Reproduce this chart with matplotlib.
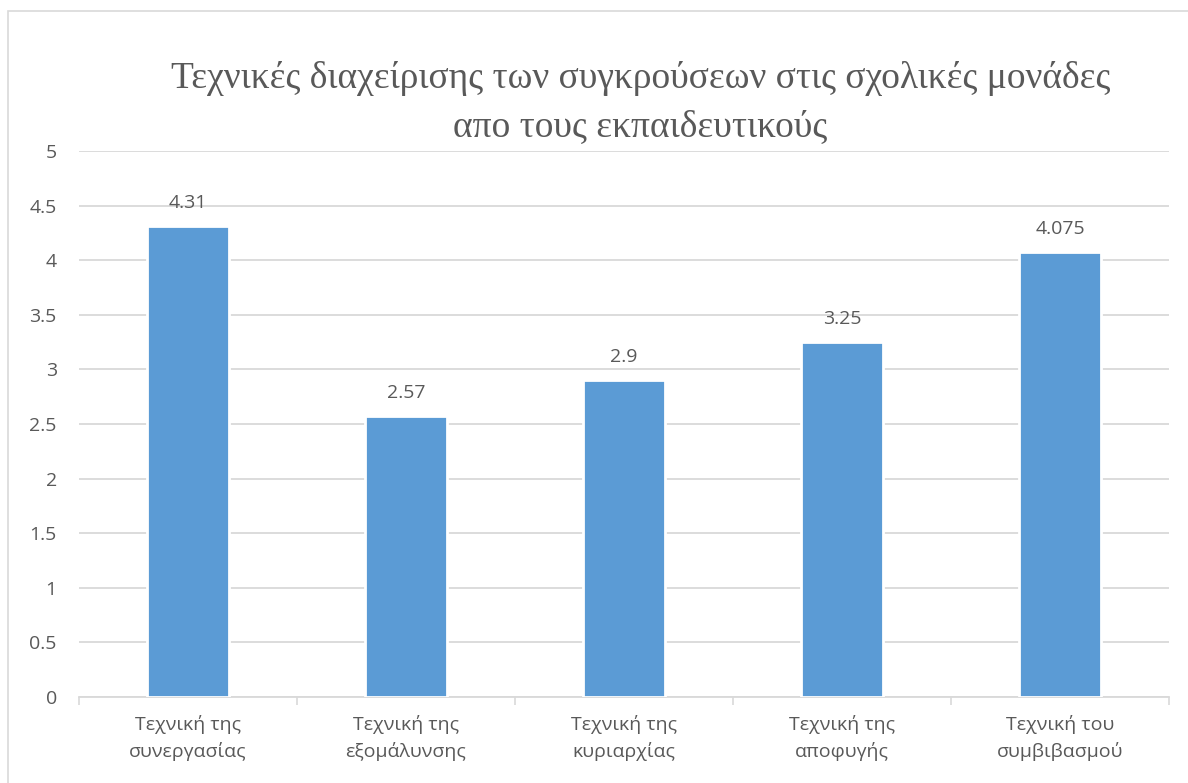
import matplotlib.pyplot as plt
import matplotlib.patches as mpatches
import numpy as np

plt.rcParams['font.family'] = ['Open Sans', 'DejaVu Sans']

categories = ['Τεχνική της\nσυνεργασίας', 'Τεχνική της\nεξομάλυνσης', 'Τεχνική της\nκυριαρχίας',
              'Τεχνική της\nαποφυγής', 'Τεχνική του\nσυμβιβασμού']
values = [4.31, 2.57, 2.9, 3.25, 4.075]
labels = ['4.31', '2.57', '2.9', '3.25', '4.075']
yticks = [0, 0.5, 1, 1.5, 2, 2.5, 3, 3.5, 4, 4.5, 5]

text_col = '#595959'
grid_col = '#D9D9D9'

fig = plt.figure(figsize=(11.88, 7.83), dpi=100)
ax = fig.add_axes([0.0665, 0.1098, 0.9175, 0.6972])

# chart border (only left/top visible in the crop)
fig.patches.append(mpatches.Rectangle((8 / 1188, -0.05), 1.2, 1 - 11 / 783 + 0.05,
                                      transform=fig.transFigure, fill=False,
                                      edgecolor=grid_col, linewidth=1.2))

x = np.arange(len(categories))
ax.bar(x, values, width=0.376, color='#5B9BD5', edgecolor='white', linewidth=2, zorder=3)
for i in range(len(values)):
    ax.text(x[i], values[i] + 0.13, labels[i], ha='center', va='bottom', fontsize=14, color=text_col)

ax.set_xlim(-0.5, len(categories) - 0.5)
ax.set_ylim(0, 5)
ax.set_yticks(yticks)
ax.set_yticklabels([f'{t:g}' for t in yticks], fontsize=14, color=text_col)
ax.yaxis.grid(True, color=grid_col, linewidth=1.3, zorder=0)
ax.set_axisbelow(True)
ax.tick_params(axis='y', length=0, pad=16)

ax.set_xticks(x)
ax.set_xticklabels(categories, fontsize=14, color=text_col, linespacing=1.55)
ax.set_xticks(np.arange(len(categories) + 1) - 0.5, minor=True)
ax.tick_params(axis='x', which='major', length=0, pad=13)
ax.tick_params(axis='x', which='minor', length=6, color=grid_col, width=1.2)

for s in ['top', 'right', 'left']:
    ax.spines[s].set_visible(False)
ax.spines['bottom'].set_color(grid_col)
ax.spines['bottom'].set_linewidth(1.3)

fig.text(0.539, 0.868, 'Τεχνικές διαχείρισης των συγκρούσεων στις σχολικές μονάδες\nαπο τους εκπαιδευτικούς',
         ha='center', va='center', fontsize=27, color=text_col,
         family=['Liberation Serif', 'DejaVu Serif', 'serif'], linespacing=1.55)

plt.savefig('out.png', dpi=100)
